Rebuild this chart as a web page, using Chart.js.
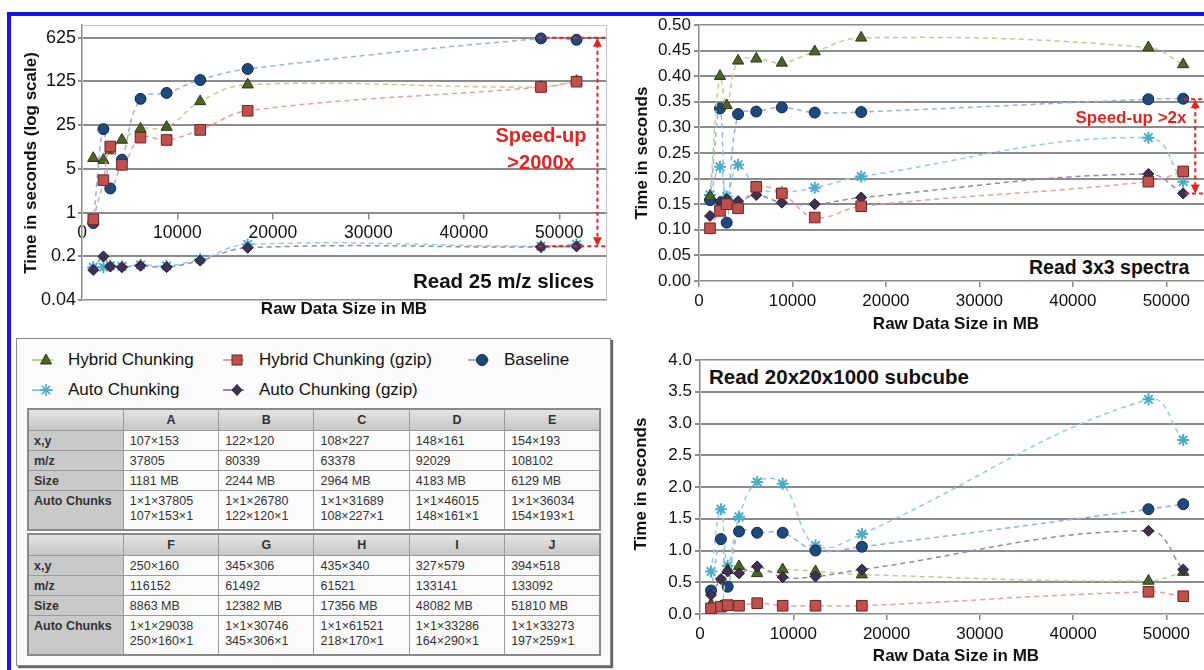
<!DOCTYPE html>
<html><head><meta charset="utf-8">
<script src="https://cdn.jsdelivr.net/npm/chart.js@4.4.1/dist/chart.umd.min.js"></script>
<style>
html,body{margin:0;padding:0;background:#fff;}
body{width:1204px;height:670px;overflow:hidden;position:relative;font-family:"Liberation Sans",Arial,sans-serif;color:#111;}
#frame{position:absolute;left:7px;top:12px;width:1400px;height:900px;border:4px solid #1414ee;box-sizing:border-box;}
canvas{position:absolute;}
.t{position:absolute;white-space:nowrap;font-weight:bold;line-height:1;}
.c{transform:translate(-50%,-50%);}
.rot{transform:translate(-50%,-50%) rotate(-90deg);}
.red{color:#e52421;}
#legendBox{position:absolute;left:16px;top:338px;width:595px;height:328px;border:1px solid #8a8a8a;box-shadow:2px 2px 1px #666;background:#fbfbfb;box-sizing:border-box;}
.li{position:absolute;font-size:17px;white-space:nowrap;display:flex;align-items:center;transform:translateY(-50%);}
.li svg{margin-right:13px;}
table.ds{position:absolute;left:27px;width:574px;border-collapse:collapse;table-layout:fixed;font-size:12.5px;color:#333;border:2px solid #8a8a8a;}
table.ds td,table.ds th{border:1px solid #9a9a9a;padding:0 6px;vertical-align:middle;}
table.ds th{background:linear-gradient(#e4e4e4,#c6c6c6);font-weight:bold;text-align:center;height:20px;}
table.ds td.h{background:#c9c9c9;font-weight:bold;padding-left:5px;}
table.ds tr.r1 td{height:19px;}
table.ds tr.r2 td{height:35px;vertical-align:top;padding-top:3px;line-height:15px;}
</style>
</head><body>
<div id="frame"></div>
<canvas id="c1" width="620" height="320" style="left:0;top:0"></canvas>
<canvas id="c2" width="600" height="330" style="left:620px;top:0"></canvas>
<canvas id="c3" width="600" height="330" style="left:620px;top:340px"></canvas>

<div class="t rot" style="left:30px;top:163px;font-size:17px">Time in seconds (log scale)</div>
<div class="t c" style="left:344px;top:308px;font-size:17px">Raw Data Size in MB</div>
<div class="t" style="left:413px;top:271px;font-size:20.5px">Read 25 m/z slices</div>
<div class="t c red" style="left:541px;top:135px;font-size:20px">Speed-up</div>
<div class="t c red" style="left:541px;top:162px;font-size:20px">&gt;2000x</div>

<div class="t rot" style="left:641px;top:153px;font-size:17px">Time in seconds</div>
<div class="t c" style="left:956px;top:323px;font-size:17px">Raw Data Size in MB</div>
<div class="t c red" style="left:1131px;top:117px;font-size:17px">Speed-up &gt;2x</div>
<div class="t" style="left:1024px;top:256px;width:200px;height:24px;background:#fff;"></div>
<div class="t" style="left:1029px;top:258px;font-size:19.5px">Read 3x3 spectra</div>

<div class="t rot" style="left:640px;top:484px;font-size:17px">Time in seconds</div>
<div class="t c" style="left:956px;top:655px;font-size:17px">Raw Data Size in MB</div>
<div class="t" style="left:705px;top:364px;width:275px;height:26px;background:#fff;"></div>
<div class="t" style="left:709px;top:367px;font-size:20.5px">Read 20x20x1000 subcube</div>

<div id="legendBox"></div>
<div id="legendItems"></div>
<div id="tables"></div>

<script>
// ---------- data ----------
const sizesMB = [1181, 2244, 2964, 4183, 6129, 8863, 12382, 17356, 48082, 51810];
const xTicks  = [0, 10000, 20000, 30000, 40000, 50000];

// Read 25 m/z slices (seconds, log scale)
const slicesHybrid     = [7.4, 6.9, 9.8, 14.5, 21.8, 23.3, 60, 111, 102, 126];
const slicesHybridGzip = [0.78, 3.3, 11.4, 5.8, 15.8, 14.5, 21, 42.5, 102, 124];
const slicesBaseline   = [0.68, 21.6, 2.43, 7.0, 66, 82, 132, 198, 610, 580];
const slicesAuto       = [0.134, 0.134, 0.141, 0.137, 0.146, 0.14, 0.18, 0.31, 0.29, 0.31];
const slicesAutoGzip   = [0.121, 0.199, 0.137, 0.134, 0.141, 0.134, 0.171, 0.274, 0.281, 0.288];
const slicesTicks      = [0.04, 0.2, 1, 5, 25, 125, 625];

// Read 3x3 spectra (seconds)
const spectraHybrid     = [0.165, 0.400, 0.343, 0.430, 0.434, 0.426, 0.448, 0.475, 0.456, 0.423];
const spectraHybridGzip = [0.103, 0.137, 0.150, 0.142, 0.184, 0.171, 0.124, 0.146, 0.194, 0.214];
const spectraBaseline   = [0.158, 0.337, 0.114, 0.326, 0.331, 0.339, 0.329, 0.330, 0.355, 0.356];
const spectraAuto       = [0.168, 0.223, 0.165, 0.227, 0.184, 0.174, 0.182, 0.204, 0.280, 0.194];
const spectraAutoGzip   = [0.127, 0.155, 0.160, 0.156, 0.168, 0.153, 0.150, 0.163, 0.209, 0.171];

// Read 20x20x1000 subcube (seconds)
const subcubeHybrid     = [0.15, 0.12, 0.69, 0.75, 0.64, 0.70, 0.67, 0.62, 0.52, 0.66];
const subcubeHybridGzip = [0.09, 0.115, 0.14, 0.13, 0.17, 0.13, 0.13, 0.13, 0.35, 0.28];
const subcubeBaseline   = [0.37, 1.18, 0.43, 1.30, 1.28, 1.28, 1.00, 1.06, 1.65, 1.73];
const subcubeAuto       = [0.67, 1.65, 0.76, 1.53, 2.08, 2.05, 1.08, 1.26, 3.38, 2.74];
const subcubeAutoGzip   = [0.30, 0.55, 0.67, 0.64, 0.75, 0.58, 0.59, 0.70, 1.31, 0.70];

const seriesNames = ['Hybrid Chunking', 'Hybrid Chunking (gzip)', 'Baseline', 'Auto Chunking', 'Auto Chunking (gzip)'];

// table
const tableLetters = ['A','B','C','D','E','F','G','H','I','J'];
const tableXY = ['107×153','122×120','108×227','148×161','154×193','250×160','345×306','435×340','327×579','394×518'];
const tableMZ = ['37805','80339','63378','92029','108102','116152','61492','61521','133141','133092'];
const tableChunks = [['1×1×37805','107×153×1'],['1×1×26780','122×120×1'],['1×1×31689','108×227×1'],['1×1×46015','148×161×1'],['1×1×36034','154×193×1'],['1×1×29038','250×160×1'],['1×1×30746','345×306×1'],['1×1×61521','218×170×1'],['1×1×33286','164×290×1'],['1×1×33273','197×259×1']];

// ---------- styles ----------
const styles = {
  'Hybrid Chunking':        {shape:'triangle', r:6.5, fill:'#4f6228', edge:'#2c3817', line:'#bcd08e'},
  'Hybrid Chunking (gzip)': {shape:'rect',     r:7.5, fill:'#c0504d', edge:'#6b2422', line:'#e8a09c'},
  'Baseline':               {shape:'circle',   r:5.5, fill:'#1f497d', edge:'#10284a', line:'#95b3d7'},
  'Auto Chunking':          {shape:'star',     r:6,   fill:'#4bacc6', edge:'#4bacc6', line:'#93cddd'},
  'Auto Chunking (gzip)':   {shape:'rectRot',  r:5.5, fill:'#3f3151', edge:'#231b2e', line:'#9088b0'}
};
const RED = '#e52421';
const FONT = '"Liberation Sans", Arial, sans-serif';
Chart.defaults.font.family = FONT;
Chart.defaults.color = '#111';

const drawOrder = [1, 4, 0, 2, 3]; // first drawn on top

function buildDatasets(valuesList) {
  return drawOrder.map(i => {
    const name = seriesNames[i], s = styles[name];
    return {
      label: name,
      data: sizesMB.map((x, k) => ({x, y: valuesList[i][k]})),
      borderColor: s.line, borderWidth: 1.5, borderDash: [5, 4],
      tension: 0.4, fill: false,
      pointStyle: s.shape, pointRadius: s.r, pointHoverRadius: s.r,
      pointBackgroundColor: s.fill, pointBorderColor: s.edge,
      pointBorderWidth: s.shape === 'star' ? 2 : 1
    };
  });
}

const framePlugin = {
  id: 'frame',
  beforeDatasetsDraw(chart) {
    const a = chart.chartArea, ctx = chart.ctx;
    ctx.save(); ctx.strokeStyle = '#c4c4c4'; ctx.lineWidth = 1;
    ctx.strokeRect(a.left + 0.5, a.top + 0.5, a.right - a.left - 1, a.bottom - a.top);
    ctx.restore();
  }
};

const annotPlugin = {
  id: 'annot',
  afterDatasetsDraw(chart, args, opts) {
    const ctx = chart.ctx, x = chart.scales.x, y = chart.scales.y;
    ctx.save();
    ctx.strokeStyle = RED; ctx.fillStyle = RED; ctx.lineWidth = 2; ctx.setLineDash([4, 3]);
    (opts.hlines || []).forEach(h => {
      const yy = y.getPixelForValue(h.y);
      ctx.beginPath(); ctx.moveTo(x.getPixelForValue(h.x1), yy); ctx.lineTo(x.getPixelForValue(h.x2), yy); ctx.stroke();
    });
    (opts.arrows || []).forEach(a => {
      const xx = x.getPixelForValue(a.x), y1 = y.getPixelForValue(a.y1), y2 = y.getPixelForValue(a.y2);
      ctx.setLineDash([4, 3]);
      ctx.beginPath(); ctx.moveTo(xx, y1 + 6); ctx.lineTo(xx, y2 - 6); ctx.stroke();
      ctx.setLineDash([]);
      ctx.beginPath(); ctx.moveTo(xx, y1); ctx.lineTo(xx - 4.5, y1 + 9); ctx.lineTo(xx + 4.5, y1 + 9); ctx.closePath(); ctx.fill();
      ctx.beginPath(); ctx.moveTo(xx, y2); ctx.lineTo(xx - 4.5, y2 - 9); ctx.lineTo(xx + 4.5, y2 - 9); ctx.closePath(); ctx.fill();
    });
    ctx.restore();
  }
};

const GRID = '#8c8c8c', AXIS = '#8a8a8a';

function xScale(opts, fontSize) {
  return Object.assign({
    type: 'linear', min: 0, max: 55000,
    afterBuildTicks(s) { s.ticks = xTicks.map(v => ({value: v})); },
    ticks: {font: {size: fontSize || 17}, color: '#111', padding: 4, maxRotation: 0, autoSkip: false, callback: v => String(v)},
    grid: {drawOnChartArea: false, drawTicks: true, tickLength: 6, color: AXIS, lineWidth: 1.5},
    border: {display: true, color: AXIS, width: 1.5}
  }, opts);
}

function baseOptions(padding, scales, annot) {
  return {
    responsive: false, animation: false, events: [],
    layout: {padding, autoPadding: false},
    plugins: {legend: {display: false}, tooltip: {enabled: false}, title: {display: false}, annot},
    scales
  };
}

// Chart 1: Read 25 m/z slices
new Chart(document.getElementById('c1'), {
  type: 'line',
  data: {datasets: buildDatasets([slicesHybrid, slicesHybridGzip, slicesBaseline, slicesAuto, slicesAutoGzip])},
  plugins: [framePlugin, annotPlugin],
  options: baseOptions({left: 0, top: 25, right: 13, bottom: 20}, {
    x: xScale({position: {y: 1}, afterFit(s) { s.height = 0; }}, 17.5),
    y: {
      type: 'logarithmic', min: 0.04, max: 1000,
      afterBuildTicks(s) { s.ticks = slicesTicks.map(v => ({value: v})); },
      afterFit(s) { s.width = 82; },
      ticks: {font: {size: 18}, color: '#111', padding: 2, autoSkip: false, callback: v => String(v)},
      grid: {color: GRID, lineWidth: 2, tickLength: 4},
      border: {display: true, color: AXIS, width: 1.5}
    }
  }, {
    hlines: [{x1: 47800, x2: 54900, y: 625}, {x1: 47800, x2: 54900, y: 0.29}],
    arrows: [{x: 54000, y1: 625, y2: 0.29}]
  })
});

// Chart 2: Read 3x3 spectra
new Chart(document.getElementById('c2'), {
  type: 'line',
  data: {datasets: buildDatasets([spectraHybrid, spectraHybridGzip, spectraBaseline, spectraAuto, spectraAutoGzip])},
  plugins: [framePlugin, annotPlugin],
  options: baseOptions({left: 0, top: 25, right: 7, bottom: 0}, {
    x: xScale({position: 'bottom', afterFit(s) { s.height = 49; }}),
    y: {
      type: 'linear', min: 0, max: 0.5,
      ticks: {stepSize: 0.05, font: {size: 17}, color: '#111', padding: 3, callback: v => Number(v).toFixed(2)},
      afterFit(s) { s.width = 79; },
      grid: {color: GRID, lineWidth: 2, tickLength: 5},
      border: {display: true, color: AXIS, width: 1.5}
    }
  }, {
    hlines: [{x1: 51900, x2: 55000, y: 0.355}, {x1: 52000, x2: 55000, y: 0.171}],
    arrows: [{x: 53100, y1: 0.355, y2: 0.171}]
  })
});

// Chart 3: Read 20x20x1000 subcube
new Chart(document.getElementById('c3'), {
  type: 'line',
  data: {datasets: buildDatasets([subcubeHybrid, subcubeHybridGzip, subcubeBaseline, subcubeAuto, subcubeAutoGzip])},
  plugins: [framePlugin],
  options: baseOptions({left: 0, top: 20, right: 7, bottom: 0}, {
    x: xScale({position: 'bottom', afterFit(s) { s.height = 56; }}),
    y: {
      type: 'linear', min: 0, max: 4,
      ticks: {stepSize: 0.5, font: {size: 17}, color: '#111', padding: 3, callback: v => Number(v).toFixed(1)},
      afterFit(s) { s.width = 80; },
      grid: {color: GRID, lineWidth: 2, tickLength: 5},
      border: {display: true, color: AXIS, width: 1.5}
    }
  }, {})
});

// ---------- legend ----------
function markerSVG(name) {
  const s = styles[name], cx = 15, cy = 9;
  let m = '';
  if (s.shape === 'triangle') m = `<polygon points="${cx},${cy-6} ${cx-5.5},${cy+4} ${cx+5.5},${cy+4}" fill="${s.fill}" stroke="${s.edge}"/>`;
  else if (s.shape === 'rect') m = `<rect x="${cx-5}" y="${cy-5}" width="10" height="10" fill="${s.fill}" stroke="${s.edge}"/>`;
  else if (s.shape === 'circle') m = `<circle cx="${cx}" cy="${cy}" r="5.5" fill="${s.fill}" stroke="${s.edge}"/>`;
  else if (s.shape === 'rectRot') m = `<polygon points="${cx},${cy-5.5} ${cx+5},${cy} ${cx},${cy+5.5} ${cx-5},${cy}" fill="${s.fill}" stroke="${s.edge}"/>`;
  else m = `<g stroke="${s.fill}" stroke-width="1.6"><line x1="${cx-6}" y1="${cy}" x2="${cx+6}" y2="${cy}"/><line x1="${cx}" y1="${cy-6}" x2="${cx}" y2="${cy+6}"/><line x1="${cx-4.2}" y1="${cy-4.2}" x2="${cx+4.2}" y2="${cy+4.2}"/><line x1="${cx-4.2}" y1="${cy+4.2}" x2="${cx+4.2}" y2="${cy-4.2}"/></g>`;
  return `<svg width="24" height="18" viewBox="0 0 24 18"><line x1="1" y1="${cy}" x2="22" y2="${cy}" stroke="${s.line}" stroke-width="2"/>${m}</svg>`;
}
const legendPos = [[31, 360], [222, 360], [467, 360], [31, 390], [222, 390]];
document.getElementById('legendItems').innerHTML = seriesNames.map((n, i) =>
  `<div class="li" style="left:${legendPos[i][0]}px;top:${legendPos[i][1]}px">${markerSVG(n)}<span>${n}</span></div>`).join('');

// ---------- tables ----------
function tableHTML(start, top) {
  const idx = [0,1,2,3,4].map(k => start + k);
  let h = `<table class="ds" style="top:${top}px"><colgroup>${'<col style="width:16.66%">'.repeat(6)}</colgroup>`;
  h += '<tr><th></th>' + idx.map(i => `<th>${tableLetters[i]}</th>`).join('') + '</tr>';
  h += '<tr class="r1"><td class="h">x,y</td>' + idx.map(i => `<td>${tableXY[i]}</td>`).join('') + '</tr>';
  h += '<tr class="r1"><td class="h">m/z</td>' + idx.map(i => `<td>${tableMZ[i]}</td>`).join('') + '</tr>';
  h += '<tr class="r1"><td class="h">Size</td>' + idx.map(i => `<td>${sizesMB[i]} MB</td>`).join('') + '</tr>';
  h += '<tr class="r2"><td class="h">Auto Chunks</td>' + idx.map(i => `<td>${tableChunks[i][0]}<br>${tableChunks[i][1]}</td>`).join('') + '</tr>';
  return h + '</table>';
}
document.getElementById('tables').innerHTML = tableHTML(0, 408) + tableHTML(5, 533);
</script>
</body></html>
